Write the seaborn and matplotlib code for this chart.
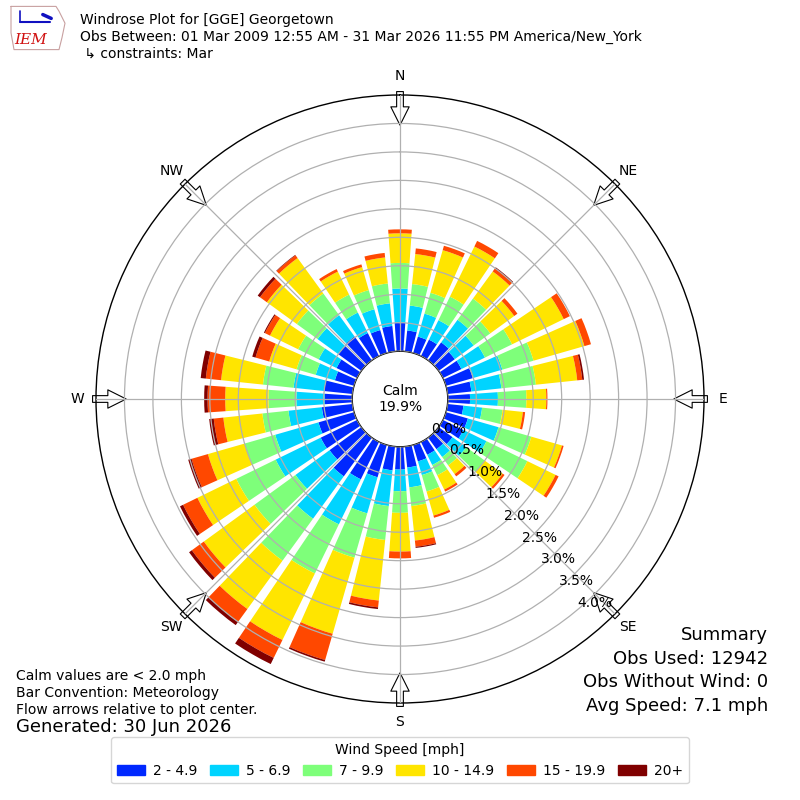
import numpy as np
import matplotlib
matplotlib.use("Agg")
import matplotlib.pyplot as plt
from matplotlib.patches import Patch
import seaborn as sns

# direction bins (degrees, meteorological: where the wind comes from)
directions = list(range(0, 360, 10))

# frequency (%) per speed bin for each direction
spd_2_5 = [0.50, 0.37, 0.30, 0.32, 0.39, 0.35, 0.36, 0.49, 0.42, 0.39, 0.28, 0.40,
           0.40, 0.30, 0.25, 0.25, 0.30, 0.37, 0.40, 0.42, 0.59, 0.73, 0.84, 0.69,
           0.71, 0.65, 0.54, 0.48, 0.50, 0.35, 0.40, 0.50, 0.52, 0.45, 0.42, 0.45]
spd_5_7 = [0.60, 0.44, 0.42, 0.38, 0.49, 0.41, 0.46, 0.54, 0.53, 0.49, 0.33, 0.56,
           0.45, 0.30, 0.17, 0.20, 0.25, 0.35, 0.38, 0.63, 0.66, 0.88, 0.92, 0.74,
           0.88, 0.79, 0.59, 0.50, 0.54, 0.35, 0.35, 0.45, 0.46, 0.40, 0.38, 0.40]
spd_7_10 = [0.45, 0.38, 0.38, 0.46, 0.46, 0.36, 0.53, 0.57, 0.61, 0.50, 0.36, 0.60,
            0.80, 0.40, 0.18, 0.20, 0.30, 0.33, 0.38, 0.60, 0.81, 0.96, 0.91, 0.89,
            0.77, 0.56, 0.46, 0.49, 0.54, 0.35, 0.40, 0.45, 0.47, 0.35, 0.35, 0.35]
spd_10_15 = [0.52, 0.53, 0.78, 0.98, 0.59, 0.52, 1.01, 0.93, 0.73, 0.35, 0.36, 0.56,
             0.55, 0.39, 0.19, 0.28, 0.44, 0.61, 0.68, 1.07, 1.39, 1.30, 1.05, 1.10,
             0.76, 0.67, 0.69, 0.76, 0.74, 0.50, 0.55, 0.65, 0.77, 0.45, 0.42, 0.46]
spd_15_20 = [0.07, 0.10, 0.08, 0.11, 0.07, 0.07, 0.12, 0.12, 0.09, 0.02, 0.04, 0.03,
             0.06, 0.04, 0.05, 0.04, 0.04, 0.11, 0.12, 0.12, 0.48, 0.35, 0.28, 0.26,
             0.28, 0.30, 0.17, 0.31, 0.27, 0.25, 0.10, 0.15, 0.06, 0.05, 0.05, 0.08]
spd_20 = [0.00, 0.00, 0.00, 0.00, 0.02, 0.00, 0.00, 0.00, 0.03, 0.00, 0.00, 0.00,
          0.00, 0.00, 0.00, 0.00, 0.00, 0.02, 0.00, 0.03, 0.03, 0.12, 0.07, 0.06,
          0.06, 0.06, 0.08, 0.06, 0.09, 0.06, 0.02, 0.05, 0.01, 0.00, 0.00, 0.00]

speed_labels = ["2 - 4.9", "5 - 6.9", "7 - 9.9", "10 - 14.9", "15 - 19.9", "20+"]
speed_colors = ["#0028ff", "#00d4ff", "#7eff7a", "#ffe500", "#ff4800", "#800000"]

compass = ["N", "NE", "E", "SE", "S", "SW", "W", "NW"]
calm_pct = 19.9

sns.set_theme(style="white")
plt.rcParams['font.family'] = ['DejaVu Sans']
plt.rcParams['text.color'] = 'black'
plt.rcParams['xtick.color'] = 'black'
plt.rcParams['ytick.color'] = 'black'
plt.rcParams['legend.title_fontsize'] = 10

fig = plt.figure(figsize=(8, 8), dpi=100)
ax = fig.add_axes([0.12, 0.12125, 0.76, 0.76], projection="polar")
ax.set_theta_zero_location("N")
ax.set_theta_direction(-1)

palette = sns.color_palette(speed_colors)
theta = np.radians(directions)
bottom = np.zeros(len(directions))
for vals, col, lab in zip([spd_2_5, spd_5_7, spd_7_10, spd_10_15, spd_15_20, spd_20],
                          palette, speed_labels):
    vals = np.array(vals)
    ax.bar(theta, vals, width=np.radians(8), bottom=bottom, color=col,
           linewidth=0, label=lab, zorder=1)
    bottom = bottom + vals

ax.set_ylim(0, 4.5)
ax.set_rorigin(-0.84)
ax.set_yticks(np.arange(0, 4.01, 0.5))
ax.set_yticklabels(["%.1f%%" % v for v in np.arange(0, 4.01, 0.5)], fontsize=10)
ax.set_rlabel_position(140)
ax.set_xticks(np.radians(range(0, 360, 45)))
ax.set_xticklabels(compass, fontsize=10)
ax.tick_params(axis="x", pad=0.5)
ax.set_axisbelow(False)
ax.grid(True, color="#b0b0b0", lw=0.9, zorder=2)
for sp in ax.spines.values():
    sp.set_color("black")
    sp.set_linewidth(1)

# flow arrows on the outer ring
for ang in range(0, 360, 45):
    ax.annotate("", xy=(np.radians(ang), 3.97), xytext=(np.radians(ang), 4.56),
                arrowprops=dict(arrowstyle="simple,head_length=0.6,head_width=0.6,tail_width=0.22",
                                fc="white", ec="black", lw=0.8, mutation_scale=22,
                                shrinkA=0, shrinkB=0),
                annotation_clip=False, zorder=2.2)

ax.text(0.5, 0.5, "Calm\n%.1f%%" % calm_pct, transform=ax.transAxes,
        ha="center", va="center", fontsize=10, zorder=6)

# header
fig.text(0.1, 0.975, "Windrose Plot for [GGE] Georgetown", fontsize=10, va="center")
fig.text(0.1, 0.954, "Obs Between: 01 Mar 2009 12:55 AM - 31 Mar 2026 11:55 PM America/New_York",
         fontsize=10, va="center")
fig.text(0.1, 0.9325, " \u21b3 constraints: Mar", fontsize=10, va="center")

# simple IEM logo
lax = fig.add_axes([0.01, 0.935, 0.075, 0.06])
lax.axis("off")
lax.set_xlim(0, 1)
lax.set_ylim(0, 1)
lax.plot([0.05, 0.8, 0.85, 0.95, 0.9, 0.85, 0.1, 0.05, 0.05],
         [0.95, 0.95, 0.85, 0.6, 0.3, 0.05, 0.05, 0.4, 0.95], color="#c8a0a0", lw=0.8)
lax.plot([0.2, 0.7], [0.62, 0.62], color="#1010c0", lw=1.5)
lax.plot([0.2, 0.2], [0.62, 0.85], color="#1010c0", lw=1.2)
lax.plot([0.58, 0.72], [0.78, 0.7], color="#1010c0", lw=2.5)
lax.text(0.38, 0.25, "IEM", color="#d01010", fontsize=11, style="italic",
         family="DejaVu Serif", ha="center", va="center")

# summary box
fig.text(0.96, 0.206, "Summary", fontsize=13, ha="right", va="center")
fig.text(0.96, 0.176, "Obs Used: 12942", fontsize=13, ha="right", va="center")
fig.text(0.96, 0.1475, "Obs Without Wind: 0", fontsize=13, ha="right", va="center")
fig.text(0.96, 0.1175, "Avg Speed: 7.1 mph", fontsize=13, ha="right", va="center")

# notes
fig.text(0.02, 0.155, "Calm values are < 2.0 mph", fontsize=10, va="center")
fig.text(0.02, 0.134, "Bar Convention: Meteorology", fontsize=10, va="center")
fig.text(0.02, 0.1125, "Flow arrows relative to plot center.", fontsize=10, va="center")
fig.text(0.02, 0.091, "Generated: 30 Jun 2026", fontsize=13, va="center")

handles = [Patch(color=c, label=l) for c, l in zip(palette, speed_labels)]
fig.legend(handles=handles, loc="lower center", bbox_to_anchor=(0.5, 0.012), ncol=6,
           title="Wind Speed [mph]", fontsize=10, title_fontsize=10,
           columnspacing=0.9, handletextpad=0.6, handleheight=0.7)

fig.savefig("out.png", dpi=100)
